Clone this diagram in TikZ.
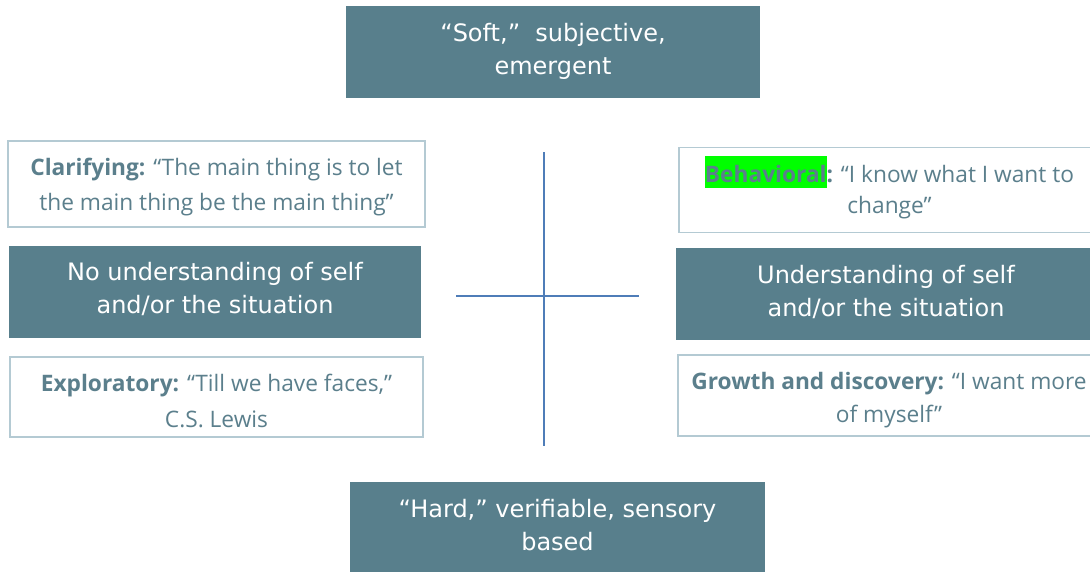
\documentclass[tikz,border=0pt]{standalone}
\usepackage{fontspec}
\setmainfont{Open Sans}
\newfontfamily\boxfont{DejaVu Sans}
\begin{document}
\definecolor{slate}{HTML}{587F8C}
\definecolor{slatetext}{HTML}{5B7F8C}
\definecolor{paleedge}{HTML}{B4CAD3}
\definecolor{axisblue}{HTML}{4F7DB8}
\definecolor{hilite}{HTML}{00FF00}
% two centred lines, the node's base anchor sitting on the first baseline
\newcommand{\twolines}[2]{\parbox[t]{440pt}{\centering #1\\#2}}
\begin{tikzpicture}[x=1pt,y=-1pt,
  darkbox/.style={draw=none,fill=slate,inner sep=0pt},
  litebox/.style={draw=paleedge,line width=1.2pt,fill=white,inner sep=0pt},
  darktext/.style={text=white,anchor=base,inner sep=0pt,
    font=\boxfont\fontsize{24}{33.5}\selectfont},
  litetext/.style={text=slatetext,anchor=base,inner sep=0pt,
    font=\fontsize{22.7}{#1}\selectfont},
  litetext/.default=35,
  axis/.style={draw=axisblue,line width=1.4pt}]
\useasboundingbox (0,0) rectangle (1090,573);
\begin{scope}
\clip (0,0) rectangle (1090,573);
% top and bottom poles
\node[darkbox,minimum width=414pt,minimum height=92pt] (soft) at (553,52) {};
\node[darktext] (soft-t) at (553,41)
  {\twolines{“Soft,”\ \ subjective,}{emergent}};
\node[darkbox,minimum width=415pt,minimum height=90pt] (hard) at (557.5,527) {};
\node[darktext] (hard-t) at (557.5,517)
  {\twolines{“Hard,” verifiable, sensory}{based}};
% left column
\node[litebox,minimum width=417pt,minimum height=86pt] (clar) at (216.5,184) {};
\node[litetext] (clar-t) at (216.5,175)
  {\twolines{\textbf{Clarifying:} “The main thing is to let}{the main thing be the main thing”}};
\node[darkbox,minimum width=412pt,minimum height=92pt] (nounder) at (215,292) {};
\node[darktext] (nounder-t) at (215,280)
  {\twolines{No understanding of self}{and/or the situation}};
\node[litebox,minimum width=413pt,minimum height=80pt] (expl) at (216.5,397) {};
\node[litetext=36] (expl-t) at (216.5,391)
  {\twolines{\textbf{Exploratory:} “Till we have faces,”}{C.S. Lewis}};
% right column
\node[litebox,minimum width=421pt,minimum height=85pt] (behav) at (889.5,190) {};
\node[litetext=31.5] (behav-t) at (889.5,182)
  {\twolines{\setlength{\fboxsep}{0pt}\colorbox{hilite}{\rule[-6pt]{0pt}{32pt}\textbf{Behavioral}}\textbf{:} “I know what I want to}{change”}};
\node[darkbox,minimum width=420pt,minimum height=92pt] (under) at (886,294) {};
\node[darktext] (under-t) at (886,283)
  {\twolines{Understanding of self}{and/or the situation}};
\node[litebox,minimum width=422pt,minimum height=81pt] (grow) at (889,395.5) {};
\node[litetext=33] (grow-t) at (889,389)
  {\twolines{\textbf{Growth and discovery:} “I want more}{of myself”}};
\end{scope}
% the two axes
\coordinate (vtop) at (544,152);
\coordinate (vbot) at (544,446);
\coordinate (hleft) at (456,296);
\coordinate (hright) at (639,296);
\draw[axis] (vtop) -- (vbot);
\draw[axis] (hleft) -- (hright);
\end{tikzpicture}
\end{document}
